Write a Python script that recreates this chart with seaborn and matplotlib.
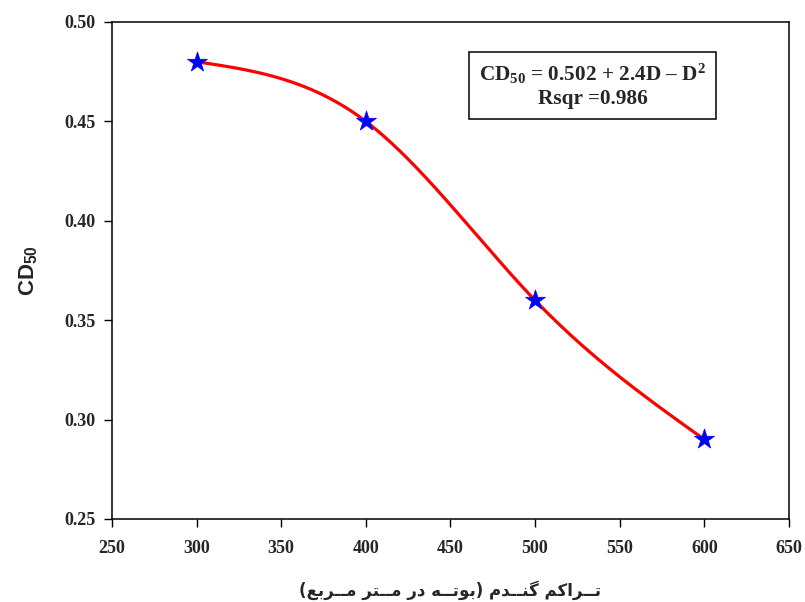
import numpy as np
import pandas as pd
import matplotlib
matplotlib.use("Agg")
import matplotlib.pyplot as plt
import seaborn as sns

# ---------------- data ----------------
density = [300, 400, 500, 600]
cd50 = [0.48, 0.45, 0.36, 0.29]
x_ticks = [250, 300, 350, 400, 450, 500, 550, 600, 650]
y_ticks = [0.25, 0.30, 0.35, 0.40, 0.45, 0.50]
y_tick_labels = ["0.25", "0.30", "0.35", "0.40", "0.45", "0.50"]
x_label = "تــراکم گنــدم (بوتــه در مــتر مــربع)"
eq_line1 = r"CD$_{\mathbf{50}}$ = 0.502 + 2.4D – D$^{\mathbf{2}}$"
eq_line2 = "Rsqr =0.986"

# ------------- Persian shaping (presentation forms) -------------
FORMS = {
    'ت': ('\uFE95', '\uFE96', '\uFE97', '\uFE98'),
    'ب': ('\uFE8F', '\uFE90', '\uFE91', '\uFE92'),
    'ن': ('\uFEE5', '\uFEE6', '\uFEE7', '\uFEE8'),
    'م': ('\uFEE1', '\uFEE2', '\uFEE3', '\uFEE4'),
    'ع': ('\uFEC9', '\uFECA', '\uFECB', '\uFECC'),
    'ه': ('\uFEE9', '\uFEEA', '\uFEEB', '\uFEEC'),
    'ک': ('\uFB8E', '\uFB8F', '\uFB90', '\uFB91'),
    'گ': ('\uFB92', '\uFB93', '\uFB94', '\uFB95'),
    'ا': ('\uFE8D', '\uFE8E'),
    'د': ('\uFEA9', '\uFEAA'),
    'ر': ('\uFEAD', '\uFEAE'),
    'و': ('\uFEED', '\uFEEE'),
}
TATWEEL = '\u0640'


def _dual(c):
    return c == TATWEEL or (c in FORMS and len(FORMS[c]) == 4)


def _joins_prev(c):
    return c == TATWEEL or c in FORMS


def shape_rtl(text):
    out = []
    n = len(text)
    for i, c in enumerate(text):
        if c not in FORMS:
            out.append(c)
            continue
        prev = text[i - 1] if i > 0 else None
        nxt = text[i + 1] if i < n - 1 else None
        cp = prev is not None and _dual(prev)
        cn = nxt is not None and _joins_prev(nxt) and _dual(c)
        f = FORMS[c]
        if len(f) == 2:
            out.append(f[1] if cp else f[0])
        else:
            if cp and cn:
                out.append(f[3])
            elif cp:
                out.append(f[1])
            elif cn:
                out.append(f[2])
            else:
                out.append(f[0])
    vis = ''.join(reversed(out))
    vis = vis.translate(str.maketrans({'(': ')', ')': '('}))
    return vis


# ------------- smooth curve (natural cubic spline through the data) -------------
def natural_spline(x, y, num=300):
    x = np.asarray(x, float)
    y = np.asarray(y, float)
    n = len(x)
    h = np.diff(x)
    A = np.zeros((n, n))
    b = np.zeros(n)
    A[0, 0] = 1
    A[-1, -1] = 1
    for i in range(1, n - 1):
        A[i, i - 1] = h[i - 1]
        A[i, i] = 2 * (h[i - 1] + h[i])
        A[i, i + 1] = h[i]
        b[i] = 6 * ((y[i + 1] - y[i]) / h[i] - (y[i] - y[i - 1]) / h[i - 1])
    M = np.linalg.solve(A, b)
    xs = np.linspace(x[0], x[-1], num)
    ys = np.empty_like(xs)
    for k, xv in enumerate(xs):
        i = min(np.searchsorted(x, xv, side='right') - 1, n - 2)
        t1 = x[i + 1] - xv
        t0 = xv - x[i]
        ys[k] = (M[i] * t1 ** 3 / (6 * h[i]) + M[i + 1] * t0 ** 3 / (6 * h[i])
                 + (y[i] / h[i] - M[i] * h[i] / 6) * t1
                 + (y[i + 1] / h[i] - M[i + 1] * h[i] / 6) * t0)
    return xs, ys


# ---------------- style ----------------
sns.set_style("ticks")
plt.rcParams['font.family'] = ['Liberation Serif', 'DejaVu Sans']
plt.rcParams['mathtext.fontset'] = 'custom'
plt.rcParams['mathtext.rm'] = 'Liberation Serif:bold'
plt.rcParams['mathtext.it'] = 'Liberation Serif:bold'
plt.rcParams['mathtext.bf'] = 'Liberation Serif:bold'
plt.rcParams['mathtext.sf'] = 'Liberation Sans:bold'

fig = plt.figure(figsize=(8.05, 6.02), dpi=100)
ax = fig.add_axes([0.139, 0.138, 0.841, 0.8255])

xs, ys = natural_spline(density, cd50)
curve = pd.DataFrame({"x": xs, "y": ys})
pts = pd.DataFrame({"density": density, "cd50": cd50})

sns.lineplot(data=curve, x="x", y="y", ax=ax, color="#ff0000", linewidth=2.3,
             sort=False, zorder=2)
sns.scatterplot(data=pts, x="density", y="cd50", ax=ax, marker="*", s=230,
                color="#0000ff", edgecolor="#0000ff", linewidth=0.5, zorder=3)

ax.set_xlim(250, 650)
ax.set_ylim(0.25, 0.50)
ax.set_xticks(x_ticks)
ax.set_yticks(y_ticks)
ax.set_yticklabels(y_tick_labels)
for lab in ax.get_xticklabels() + ax.get_yticklabels():
    lab.set_fontfamily('Liberation Serif')
    lab.set_fontweight('bold')
    lab.set_fontsize(13)
ax.tick_params(direction='out', length=6, width=1, color='black')
ax.tick_params(axis='x', pad=9)
ax.tick_params(axis='y', pad=6)
for s in ax.spines.values():
    s.set_visible(True)
    s.set_linewidth(1.1)
    s.set_color('black')

ax.set_ylabel(r"CD$_{\mathsf{50}}$", fontsize=16, fontweight='bold',
              fontfamily='Liberation Sans', labelpad=18)
ax.set_xlabel(shape_rtl(x_label), fontsize=12, fontweight='bold',
              family=['DejaVu Sans'], labelpad=17)

ax.text(0.710, 0.872, eq_line1 + "\n" + eq_line2, transform=ax.transAxes,
        ha='center', va='center', fontsize=15.3, fontweight='bold',
        fontfamily='Liberation Serif', linespacing=1.2,
        bbox=dict(boxstyle='square,pad=0.48', facecolor='white',
                  edgecolor='black', linewidth=1.1))

fig.savefig("out.png", dpi=100)
